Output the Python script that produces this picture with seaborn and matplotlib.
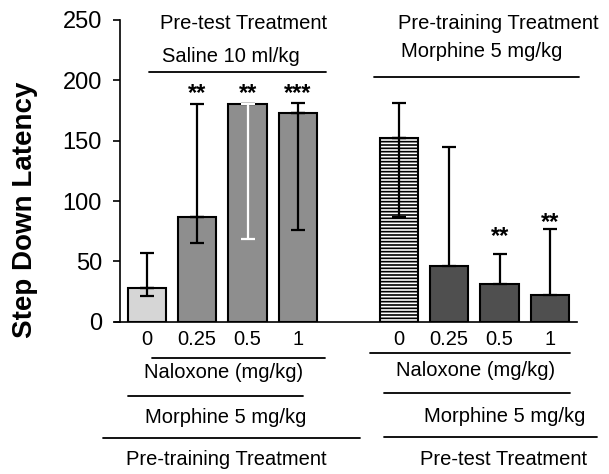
import numpy as np
import pandas as pd
import seaborn as sns
import matplotlib.pyplot as plt

# bar data (left group: pre-training morphine, right: pre-test morphine)
positions = [0, 1, 2, 3, 5, 6, 7, 8]
doses = ["0", "0.25", "0.5", "1", "0", "0.25", "0.5", "1"]
latency = [28, 87, 180, 173, 152, 46, 31, 22]
err_upper = [57, 180, 180, 181, 181, 145, 56, 77]
err_lower = [21, 65, 69, 76, 87, np.nan, np.nan, np.nan]
stars = ["", "**", "**", "***", "", "", "**", "**"]
star_y = [0, 189, 189, 189, 0, 0, 71, 82]
bar_colors = ["#d6d6d6", "#8e8e8e", "#8e8e8e", "#8e8e8e", "#ffffff", "#4f4f4f", "#4f4f4f", "#4f4f4f"]
bar_hatch = ["", "", "", "", "-----", "", "", ""]
lower_err_color = ["black", "black", "white", "black", "black", "black", "black", "black"]

df = pd.DataFrame({"pos": positions, "latency": latency, "bar": [str(i) for i in range(8)]})

sns.set_style("ticks")
plt.rcParams["font.family"] = ["Liberation Sans", "DejaVu Sans"]
plt.rcParams["hatch.linewidth"] = 1.2
for k in ["text.color", "axes.labelcolor", "xtick.color", "ytick.color", "axes.edgecolor"]:
    plt.rcParams[k] = "black"

fig = plt.figure(figsize=(6.09, 4.74), dpi=100)
ax = fig.add_axes([0.189, 0.321, 0.758, 0.637])

sns.barplot(data=df, x="pos", y="latency", hue="bar", palette=dict(zip(df["bar"], bar_colors)),
            native_scale=True, width=0.76, dodge=False, legend=False, errorbar=None,
            edgecolor="black", linewidth=1.5, ax=ax)

for patch, h in zip(ax.patches, bar_hatch):
    if h:
        patch.set_hatch(h)

# asymmetric error bars, upper and lower drawn separately
for x, m, up, lo, lc in zip(positions, latency, err_upper, err_lower, lower_err_color):
    ax.errorbar(x, m, yerr=[[0], [up - m]], color="black", capsize=5, elinewidth=1.6, capthick=1.6, zorder=5)
    if not np.isnan(lo):
        ax.errorbar(x, m, yerr=[[m - lo], [0]], color=lc, capsize=5, elinewidth=1.6, capthick=1.6, zorder=5)

for x, s, y in zip(positions, stars, star_y):
    if s:
        ax.text(x, y, s, ha="center", va="center", fontsize=17, fontweight="bold")

ax.set_xlim(-0.63, 8.53)
ax.set_ylim(0, 250)
ax.set_yticks(range(0, 251, 50))
ax.set_xticks(positions, labels=doses)
ax.tick_params(axis="x", length=0, pad=6, labelsize=14.5)
ax.tick_params(axis="y", length=5, width=1.2, labelsize=17, pad=8)
ax.spines["left"].set_position(("data", -0.53))
ax.spines["left"].set_linewidth(1.2)
ax.spines["bottom"].set_linewidth(1.2)
sns.despine(ax=ax)
ax.set_xlabel("")
ax.set_ylabel("")

fig.text(0.041, 1 - 210 / 474, "Step Down Latency", rotation=90, fontsize=20,
         fontweight="bold", ha="center", va="center")

# group annotations (data coords, outside axes)
kw = dict(ha="center", va="center", fontsize=14.5, clip_on=False)
line = dict(color="black", linewidth=1.3, clip_on=False)

ax.text(1.92, 247, "Pre-test Treatment", **kw)
ax.text(1.67, 220, "Saline 10 ml/kg", **kw)
ax.plot([0.04, 3.55], [207, 207], **line)
ax.text(6.98, 247, "Pre-training Treatment", **kw)
ax.text(6.65, 224, "Morphine 5 mg/kg", **kw)
ax.plot([4.51, 8.57], [203, 203], **line)

ax.plot([0.1, 3.53], [-30, -30], **line)
ax.text(1.53, -42, "Naloxone (mg/kg)", **kw)
ax.plot([-0.37, 3.1], [-61, -61], **line)
ax.text(1.57, -79, "Morphine 5 mg/kg", **kw)
ax.plot([-0.88, 4.22], [-96, -96], **line)
ax.text(1.57, -114, "Pre-training Treatment", **kw)

ax.plot([4.43, 8.39], [-26, -26], **line)
ax.text(6.53, -40, "Naloxone (mg/kg)", **kw)
ax.plot([4.7, 8.39], [-59, -59], **line)
ax.text(7.1, -78, "Morphine 5 mg/kg", **kw)
ax.plot([4.7, 8.94], [-95, -95], **line)
ax.text(7.08, -114, "Pre-test Treatment", **kw)

fig.savefig("out.png", dpi=100)
